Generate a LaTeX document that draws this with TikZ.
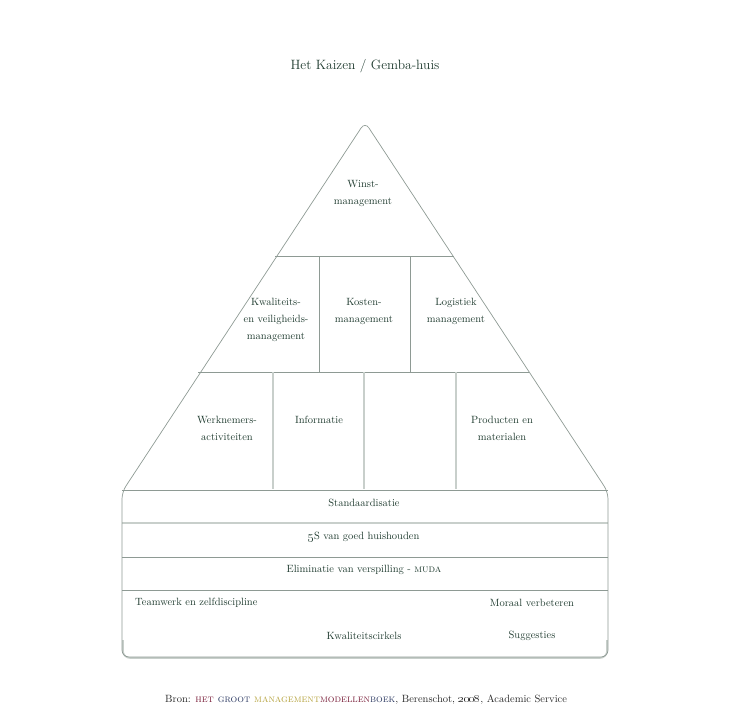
\documentclass[tikz,border=0pt]{standalone}
\usepackage{textcomp}
\definecolor{txt}{HTML}{1E3A2E}
\definecolor{ln}{HTML}{8E9A94}
\definecolor{lnl}{HTML}{C8CFCB}
\definecolor{maroon}{HTML}{7A1F3A}
\definecolor{navy}{HTML}{2E3B63}
\definecolor{olive}{HTML}{B5A23C}
\tikzset{
  lbl/.style={text=txt, align=center, inner sep=0pt, font=\fontsize{10.5}{17}\selectfont},
  ttl/.style={text=txt, inner sep=0pt, font=\fontsize{13.5}{16}\selectfont},
  thin/.style={draw=ln, line width=0.7pt},
  light/.style={draw=lnl, line width=1.4pt},
}
\begin{document}
\begin{tikzpicture}[x=1pt,y=-1pt]
\useasboundingbox (0,0) rectangle (728,728);
% title
\node[ttl] (title) at (365,66) {Het Kaizen / Gemba-huis};
% row lines and dividers
\draw[thin] (275,256) -- (454,256);
\draw[thin] (198,372) -- (529,372);
\draw[thin] (319,256) -- (319,372);
\draw[thin] (410,256) -- (410,372);
\draw[light] (273,372) -- (273,489);
\draw[light] (364,372) -- (364,489);
\draw[light] (456,372) -- (456,489);
% box
\draw[thin] (122,490) -- (608,490);
\draw[light] (122,523) -- (608,523);
\draw[thin] (122,557) -- (608,557);
\draw[thin] (122,590) -- (608,590);
\draw[lnl, line width=1.6pt, rounded corners=7pt] (123,640) -- (123,658) -- (607,658) -- (607,640);
% outline
\draw[thin, rounded corners=7pt] (365,122) -- (122,492) -- (122,657) -- (608,657) -- (608,492) -- cycle;
% labels
\node[lbl] (winst) at (363,193) {Winst-\\management};
\node[lbl] (kwal) at (276,320) {Kwaliteits-\\en veiligheids-\\management};
\node[lbl] (kost) at (364,311.5) {Kosten-\\management};
\node[lbl] (logi) at (456,311.5) {Logistiek\\management};
\node[lbl] (werk) at (227,428) {Werknemers-\\activiteiten};
\node[lbl] (info) at (319,420) {Informatie};
\node[lbl] (prod) at (502,428) {Producten en\\materialen};
\node[lbl] (stand) at (364,503) {Standaardisatie};
\node[lbl] (fives) at (364,537) {\oldstylenums{5}S van goed huishouden};
\node[lbl] (elim) at (364,570) {Eliminatie van verspilling - \textsc{muda}};
\node[lbl, anchor=west] (team) at (135,603) {Teamwerk en zelfdiscipline};
\node[lbl] (moraal) at (532,603) {Moraal verbeteren};
\node[lbl] (kcirk) at (364,636) {Kwaliteitscirkels};
\node[lbl] (sugg) at (532,636) {Suggesties};
% source
\node[lbl, text=black!85, anchor=west, font=\fontsize{10.5}{12}\selectfont] (bron) at (165,700) {Bron: \textsc{\textcolor{maroon}{het} \textcolor{navy}{groot} \textcolor{olive}{management}\textcolor{maroon}{modellen}\textcolor{navy}{boek}}, Berenschot, \oldstylenums{2008}, Academic Service};
\end{tikzpicture}
\end{document}
